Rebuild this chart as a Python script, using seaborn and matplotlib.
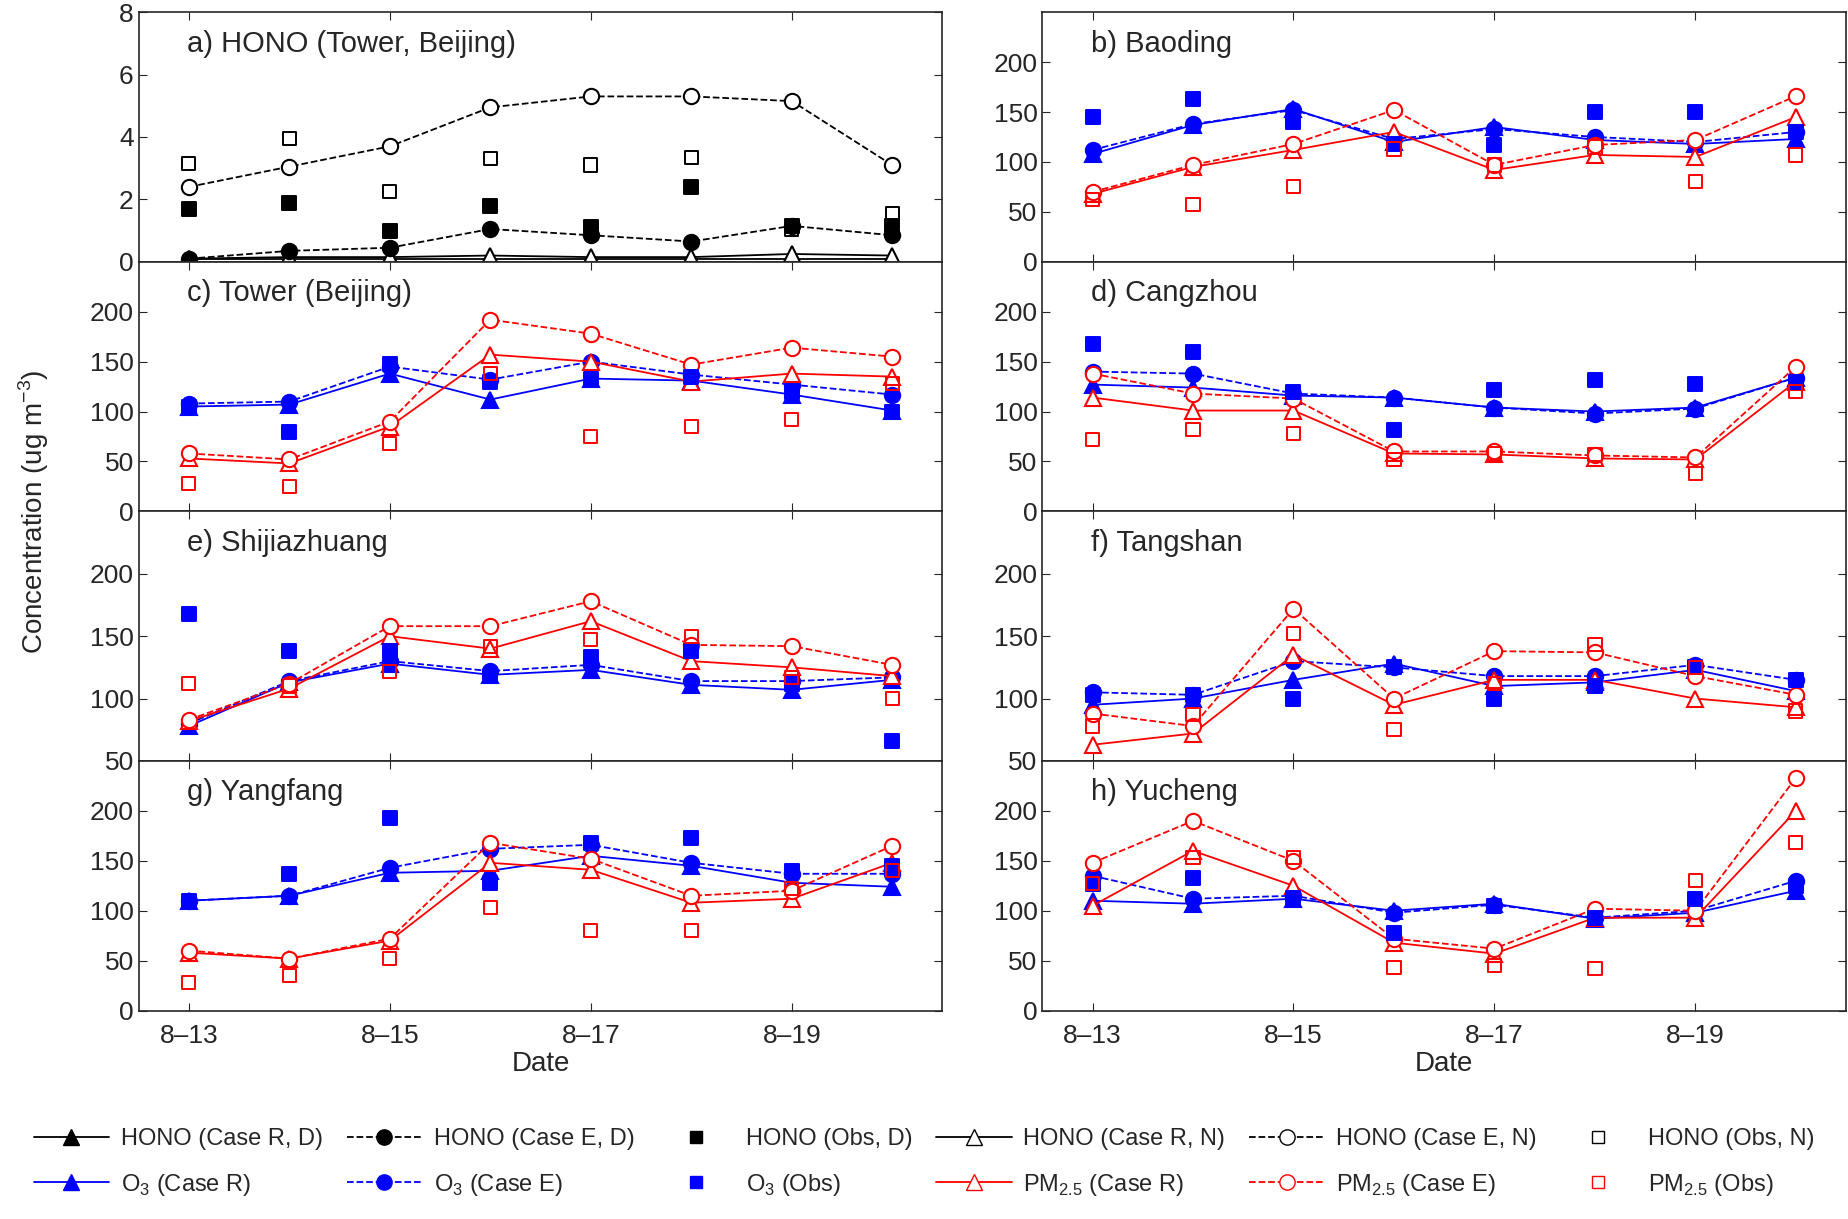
import matplotlib
matplotlib.use("Agg")
import matplotlib.pyplot as plt
import seaborn as sns
import pandas as pd
from matplotlib.lines import Line2D

sns.set_style("ticks")
plt.rcParams['font.family'] = ['Liberation Sans', 'DejaVu Sans']
plt.rcParams['mathtext.fontset'] = 'custom'
plt.rcParams['mathtext.rm'] = 'Liberation Sans'
FS = 19

dates = ["8-13", "8-14", "8-15", "8-16", "8-17", "8-18", "8-19", "8-20"]
xi = list(range(8))

hono_r_d = [0.1, 0.1, 0.1, 0.1, 0.1, 0.1, 0.1, 0.1]
hono_e_d = [0.1, 0.35, 0.45, 1.05, 0.85, 0.65, 1.15, 0.85]
hono_obs_d = [1.7, 1.9, 1.0, 1.8, 1.1, 2.4, 1.15, 1.15]
hono_r_n = [0.1, 0.15, 0.15, 0.2, 0.15, 0.15, 0.25, 0.2]
hono_e_n = [2.4, 3.05, 3.7, 4.95, 5.3, 5.3, 5.15, 3.1]
hono_obs_n = [3.15, 3.95, 2.25, 3.3, 3.1, 3.35, 1.05, 1.55]

sites = ["b) Baoding", "c) Tower (Beijing)", "d) Cangzhou", "e) Shijiazhuang",
         "f) Tangshan", "g) Yangfang", "h) Yucheng"]
o3_r = [[108,137,153,120,135,122,118,123],[105,107,138,112,133,131,117,101],
        [127,124,116,114,104,100,104,134],[78,113,128,119,123,111,107,115],
        [95,100,115,128,110,113,123,106],[110,115,138,140,155,145,128,124],
        [110,107,112,100,107,92,98,120]]
o3_e = [[112,138,152,123,133,125,120,130],[108,110,145,132,150,137,127,117],
        [140,138,118,114,104,98,103,134],[80,114,130,122,127,114,114,117],
        [105,103,130,125,118,118,127,115],[110,115,143,162,166,148,137,137],
        [135,112,115,98,106,93,100,130]]
o3_obs = [[145,163,140,118,117,150,150,130],[105,79,148,130,133,135,120,100],
          [168,160,120,82,122,132,128,130],[168,138,138,118,133,138,112,66],
          [103,103,100,125,100,110,125,115],[110,137,193,128,168,173,140,145],
          [127,133,113,78,105,93,112,125]]
pm_r = [[68,95,112,130,92,107,105,145],[53,48,85,157,150,130,138,135],
        [114,101,101,58,57,53,52,130],[82,108,150,140,162,130,125,118],
        [63,72,135,95,115,115,100,93],[58,52,70,148,141,108,112,148],
        [105,160,125,68,57,93,93,200]]
pm_e = [[70,97,118,152,97,117,122,166],[58,52,90,192,178,147,164,155],
        [138,118,113,60,60,56,54,145],[83,112,158,158,178,143,142,127],
        [88,78,172,100,138,137,118,103],[60,52,72,168,152,115,120,165],
        [148,190,150,72,62,102,100,233]]
pm_obs = [[62,57,75,113,97,115,80,107],[28,25,68,138,75,85,92,128],
          [72,82,78,52,58,57,38,120],[112,110,122,142,147,150,117,100],
          [78,87,152,75,112,143,125,90],[28,35,52,103,80,80,122,140],
          [127,153,153,43,45,42,130,168]]

fig = plt.figure(figsize=(18.48, 12.19), dpi=100)
L1, L2, W = 0.075, 0.564, 0.435
top, bot = 0.99, 0.171
H = (top - bot) / 4
axes = []
for r in range(4):
    for c in range(2):
        ax = fig.add_axes([L1 if c == 0 else L2, top - (r + 1) * H, W, H])
        axes.append(ax)

MS = 11
def line(ax, y, color, ls, marker, filled):
    sns.lineplot(x=xi, y=y, ax=ax, color=color, linestyle=ls, marker=marker, lw=1.3,
                 markersize=MS, markerfacecolor=color if filled else 'white',
                 markeredgecolor=color, markeredgewidth=1.5)
def obs(ax, y, color, filled):
    sns.scatterplot(x=xi, y=y, ax=ax, marker='s', s=90, color=color if filled else 'none',
                    edgecolor=color, linewidth=1.4, zorder=5)

ax = axes[0]
line(ax, hono_r_d, 'black', '-', '^', True)
line(ax, hono_r_n, 'black', '-', '^', False)
line(ax, hono_e_d, 'black', '--', 'o', True)
line(ax, hono_e_n, 'black', '--', 'o', False)
obs(ax, hono_obs_d, 'black', True)
obs(ax, hono_obs_n, 'black', False)
ax.set_ylim(0, 8)
ax.set_yticks([0, 2, 4, 6, 8])
ax.text(0.06, 0.93, "a) HONO (Tower, Beijing)", transform=ax.transAxes, fontsize=FS + 2, va='top')

for i in range(7):
    ax = axes[i + 1]
    line(ax, o3_r[i], 'blue', '-', '^', True)
    line(ax, o3_e[i], 'blue', '--', 'o', True)
    obs(ax, o3_obs[i], 'blue', True)
    line(ax, pm_r[i], 'red', '-', '^', False)
    line(ax, pm_e[i], 'red', '--', 'o', False)
    obs(ax, pm_obs[i], 'red', False)
    if i in (3, 4):
        ax.set_ylim(50, 250)
        ax.set_yticks([50, 100, 150, 200])
    else:
        ax.set_ylim(0, 250)
        ax.set_yticks([0, 50, 100, 150, 200])
    ax.text(0.06, 0.93, sites[i], transform=ax.transAxes, fontsize=FS + 2, va='top')

for k, ax in enumerate(axes):
    ax.set_xlim(-0.5, 7.5)
    ax.set_xticks([0, 2, 4, 6])
    ax.tick_params(direction='in', labelsize=FS, length=6, top=True, right=True)
    ax.tick_params(axis='x', pad=10)
    ax.set_xlabel("")
    ax.set_ylabel("")
    for s in ax.spines.values():
        s.set_linewidth(1.2)
    if k >= 6:
        ax.set_xticklabels(["8\u201313", "8\u201315", "8\u201317", "8\u201319"])
        ax.set_xlabel("Date", fontsize=FS + 1, labelpad=2)
    else:
        ax.set_xticklabels([])
fig.text(0.018, 0.58, "Concentration (ug m$^{-3}$)", rotation=90, fontsize=FS + 1, va='center', ha='center')

def h(color, ls, marker, filled):
    return Line2D([], [], color=color, linestyle=ls, marker=marker, markersize=MS,
                  markerfacecolor=color if filled else 'white', markeredgecolor=color, lw=1.3)
def hs(color, filled):
    return Line2D([], [], color=color, linestyle='none', marker='s', markersize=9,
                  markerfacecolor=color if filled else 'white', markeredgecolor=color)
handles = [h('black', '-', '^', True), h('black', '--', 'o', True), hs('black', True),
           h('black', '-', '^', False), h('black', '--', 'o', False), hs('black', False),
           h('blue', '-', '^', True), h('blue', '--', 'o', True), hs('blue', True),
           h('red', '-', '^', False), h('red', '--', 'o', False), hs('red', False)]
labels = ["HONO (Case R, D)", "HONO (Case E, D)", "HONO (Obs, D)",
          "HONO (Case R, N)", "HONO (Case E, N)", "HONO (Obs, N)",
          "O$_3$ (Case R)", "O$_3$ (Case E)", "O$_3$ (Obs)",
          "PM$_{2.5}$ (Case R)", "PM$_{2.5}$ (Case E)", "PM$_{2.5}$ (Obs)"]
order = [j for c in range(6) for j in (c, c + 6)]
fig.legend([handles[j] for j in order], [labels[j] for j in order], loc='lower center',
           bbox_to_anchor=(0.5, 0.0), ncol=6, frameon=False, fontsize=FS - 2,
           handlelength=3.2, handletextpad=0.5, columnspacing=1.0, labelspacing=0.9)
fig.savefig("out.png", dpi=100)
